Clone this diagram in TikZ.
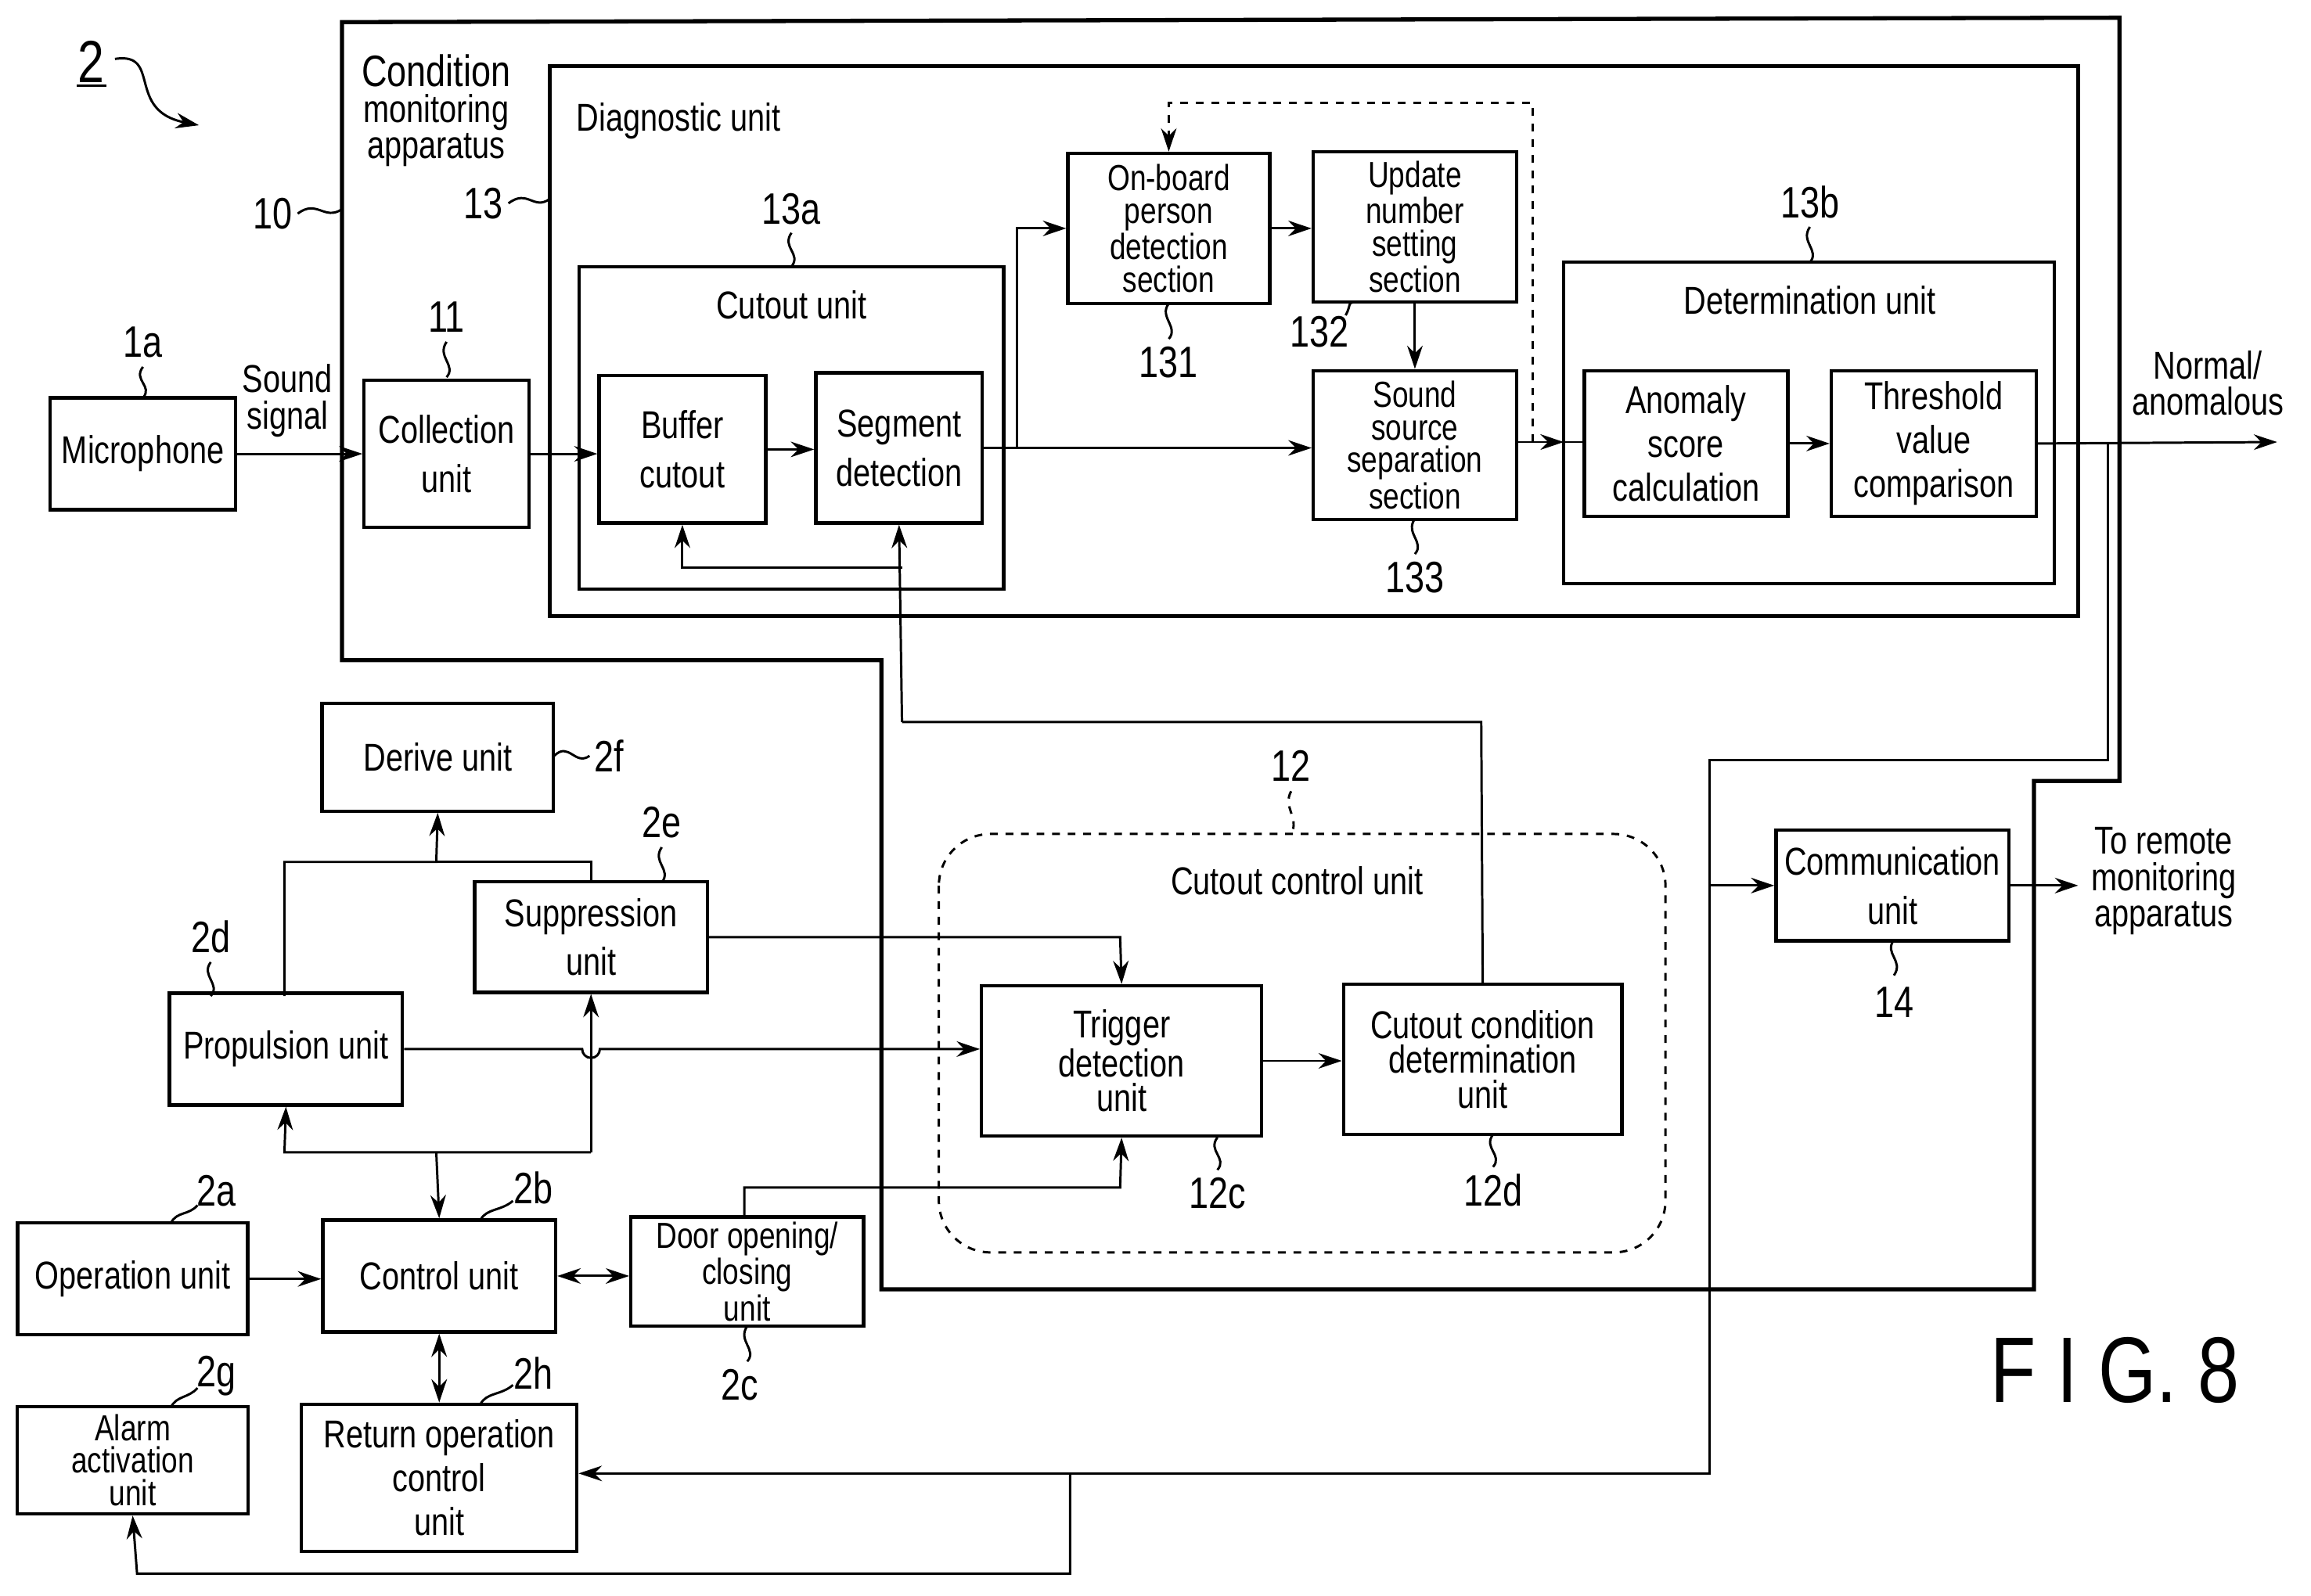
\documentclass[tikz,border=0pt]{standalone}
\usepackage{fontspec}
\setmainfont{Liberation Sans}[FakeStretch=0.8]
\usetikzlibrary{arrows.meta}
\begin{document}
\begin{tikzpicture}[x=0.02cm,y=-0.02cm,
  box/.style={draw,line width=1.3pt,inner sep=0pt,align=center},
  tight/.style={font=\fontsize{14}{12.6}\selectfont},
  ln/.style={line width=0.9pt},
  ar/.style={ln,-{Stealth[length=9pt,width=6pt]}},
  lab/.style={align=center,font=\fontsize{15}{17}\selectfont},
  num/.style={font=\fontsize{17}{17}\selectfont},
  every node/.style={align=center,font=\fontsize{15}{17}\selectfont}]
\useasboundingbox (0,0) rectangle (1568,1083);
% containers
\draw[line width=1.6pt] (232,15) -- (1438,12) -- (1438,530) -- (1380,530) -- (1380,875) -- (598,875) -- (598,448) -- (232,448) -- cycle;
\draw[line width=1.6pt] (373,45) rectangle (1410,418);
\node[lab,anchor=west] at (385,82) {Diagnostic unit};
\node[lab] at (296,75) {\fontsize{17}{19}\selectfont Condition\\[-3pt]monitoring\\[-3pt]apparatus};
\draw[line width=1.3pt] (393,181) rectangle (681,400);
\node[lab] at (537,207) {Cutout unit};
\draw[line width=1.3pt] (1061,178) rectangle (1394,396);
\node[lab] at (1228,204) {Determination unit};
% top boxes
\node[box,minimum width=2.52cm,minimum height=1.52cm] (mic) at (97,308) {Microphone};
\node[box,minimum width=2.24cm,minimum height=2cm] (col) at (303,308) {Collection\\[2pt]unit};
\node[box,minimum width=2.26cm,minimum height=2cm] (buf) at (463,305) {Buffer\\[2pt]cutout};
\node[box,minimum width=2.26cm,minimum height=2.04cm] (seg) at (610,304) {Segment\\[2pt]detection};
\node[box,minimum width=2.74cm,minimum height=2.04cm,tight] (onb) at (793,155) {On-board\\person\\detection\\section};
\node[box,minimum width=2.76cm,minimum height=2.04cm,tight] (upd) at (960,154) {Update\\number\\setting\\section};
\node[box,minimum width=2.76cm,minimum height=2.02cm,tight] (sss) at (960,302) {Sound\\source\\separation\\section};
\node[box,minimum width=2.76cm,minimum height=1.98cm] (ano) at (1144,301) {Anomaly\\score\\calculation};
\node[box,minimum width=2.78cm,minimum height=1.98cm] (thr) at (1312,301) {Threshold\\value\\comparison};
\coordinate (outA) at (1545,300);
\node[lab] at (1498,260) {Normal/\\[-3pt]anomalous};
\node[lab] at (195,272) {Sound\\[-3pt]signal};
% top connectors
\draw[ar] (mic.east) -- (col.west);
\draw[ar] (col.east) -- (buf.west|-col.east);
\draw[ar] (buf.east) -- (seg.west|-buf.east);
\draw[ar] (seg.east) -- (sss.west|-seg.east);
\draw[ar] (690,304) -- (690,155) -- (onb.west);
\draw[ar] (onb.east) -- (upd.west|-onb.east);
\draw[ar] (upd.south) -- (sss.north);
\draw[ar] (sss.east|-0,300) -- (1061,300);
\draw[ln] (1061,300) -- (ano.west|-0,300);
\draw[ln,dashed,-{Stealth[length=9pt,width=6pt]}] (1040,300) -- (1040,70) -- (793,70) -- (onb.north);
\draw[ar] (ano.east) -- (thr.west);
\draw[ar] (thr.east) -- (outA);
\draw[ar] (612,490) -- (seg.south);
\draw[ar] (612,385) -- (463,385) -- (buf.south);
% labels top
\node[font=\fontsize{23}{23}\selectfont] (n2) at (62,42) {2};
\draw[ln] (52,58) -- (72,58);
\draw[ln,-{Stealth[length=9pt,width=6pt]}] (78,40) .. controls (110,35) and (85,75) .. (135,85);
\node[num] at (185,145) {10};
\draw[ln] (202,145) .. controls (215,135) and (220,150) .. (232,142);
\node[num] at (328,138) {13};
\draw[ln] (345,138) .. controls (358,128) and (362,143) .. (373,135);
\node[num] at (537,142) {13a};
\draw[ln] (537,158) .. controls (530,168) and (544,172) .. (537,181);
\node[num] at (303,215) {11};
\draw[ln] (303,232) .. controls (296,242) and (310,248) .. (303,256);
\node[num] at (97,232) {1a};
\draw[ln] (97,249) .. controls (90,258) and (104,262) .. (97,270);
\node[num] at (793,246) {131};
\draw[ln] (793,206) .. controls (786,215) and (800,222) .. (793,230);
\node[num] at (895,225) {132};
\draw[ln] (913,214) .. controls (918,205) and (912,205) .. (925,205);
\node[num] at (960,392) {133};
\draw[ln] (960,352) .. controls (953,362) and (967,368) .. (960,376);
\node[num] at (1228,137) {13b};
\draw[ln] (1228,154) .. controls (1221,164) and (1235,170) .. (1228,178);
% lower boxes
\node[box,minimum width=3.14cm,minimum height=1.46cm] (der) at (297,514) {Derive unit};
\node[box,minimum width=3.16cm,minimum height=1.5cm] (sup) at (401,636) {Suppression\\[2pt]unit};
\node[box,minimum width=3.16cm,minimum height=1.52cm] (pro) at (194,712) {Propulsion unit};
\node[box,minimum width=3.12cm,minimum height=1.52cm] (op) at (90,868) {Operation unit};
\node[box,minimum width=3.16cm,minimum height=1.52cm] (ctl) at (298,866) {Control unit};
\node[box,minimum width=3.16cm,minimum height=1.48cm,tight] (door) at (507,863) {Door opening/\\closing\\unit};
\node[box,minimum width=3.14cm,minimum height=1.46cm,tight] (alm) at (90,991) {Alarm\\activation\\unit};
\node[box,minimum width=3.74cm,minimum height=2cm] (ret) at (298,1003) {Return operation\\control\\unit};
\draw[ln,dashed,rounded corners=20pt] (637,566) rectangle (1130,850);
\node[lab] at (880,598) {Cutout control unit};
\node[box,minimum width=3.8cm,minimum height=2.04cm,font=\fontsize{15}{13.5}\selectfont] (trg) at (761,720) {Trigger\\detection\\unit};
\node[box,minimum width=3.78cm,minimum height=2.04cm,font=\fontsize{15}{13.5}\selectfont] (ccd) at (1006,719) {Cutout condition\\determination\\unit};
\node[box,minimum width=3.16cm,minimum height=1.5cm] (com) at (1284,601) {Communication\\[2pt]unit};
\node[lab] at (1468,598) {To remote\\[-3pt]monitoring\\[-3pt]apparatus};
\coordinate (remote) at (1410,601);
% lower connectors
\draw[ar] (193,676) -- (193,585) -- (296,585) -- (der.south);
\draw[ln] (296,585) -- (401,585) -- (sup.north);
\draw[ar] (pro.east) -- (395,712) arc (180:0:6) -- (trg.west|-pro.east);
\draw[ar] (sup.east) -- (760,636) -- (trg.north);
\draw[ar] (401,782) -- (sup.south);
\draw[ar] (401,782) -- (193,782) -- (pro.south);
\draw[ar] (296,782) -- (ctl.north);
\draw[ar] (op.east) -- (ctl.west|-op.east);
\draw[ln,{Stealth[length=9pt,width=6pt]}-{Stealth[length=9pt,width=6pt]}] (ctl.east) -- (door.west|-ctl.east);
\draw[ln,{Stealth[length=9pt,width=6pt]}-{Stealth[length=9pt,width=6pt]}] (ctl.south) -- (ret.north);
\draw[ar] (505,826) -- (505,806) -- (760,806) -- (trg.south);
\draw[ar] (trg.east) -- (ccd.west|-trg.east);
\draw[ln] (ccd.north) -- (1005,490) -- (612,490);
\draw[ar] (1430,300) -- (1430,516) -- (1160,516) -- (1160,1000) -- (ret.east|-0,1000);
\draw[ar] (726,1000) -- (726,1068) -- (93,1068) -- (alm.south);
\draw[ar] (1160,601) -- (com.west);
\draw[ar] (com.east) -- (remote);
% lower labels
\node[num] at (413,513) {2f};
\draw[ln] (376,513) .. controls (386,503) and (390,520) .. (400,513);
\node[num] at (449,558) {2e};
\draw[ln] (449,575) .. controls (442,585) and (456,590) .. (449,599);
\node[num] at (143,636) {2d};
\draw[ln] (143,653) .. controls (136,662) and (150,668) .. (143,676);
\node[num] at (147,808) {2a};
\draw[ln] (134,818) .. controls (128,825) and (120,822) .. (116,830);
\node[num] at (362,806) {2b};
\draw[ln] (348,815) .. controls (340,822) and (330,820) .. (326,828);
\node[num] at (502,940) {2c};
\draw[ln] (507,900) .. controls (500,910) and (514,916) .. (507,924);
\node[num] at (147,934) {2g};
\draw[ln] (134,942) .. controls (128,949) and (120,947) .. (116,955);
\node[num] at (362,932) {2h};
\draw[ln] (348,940) .. controls (340,947) and (330,945) .. (326,953);
\node[num] at (876,520) {12};
\draw[ln,dashed] (876,537) .. controls (870,548) and (882,555) .. (876,566);
\node[num] at (826,810) {12c};
\draw[ln] (826,772) .. controls (819,781) and (833,786) .. (826,794);
\node[num] at (1013,808) {12d};
\draw[ln] (1013,770) .. controls (1006,779) and (1020,784) .. (1013,792);
\node[num] at (1285,680) {14};
\draw[ln] (1285,638) .. controls (1278,647) and (1292,652) .. (1285,662);
\node[font=\fontsize{36}{36}\selectfont] at (1435,930) {F I G. 8};
\end{tikzpicture}
\end{document}
